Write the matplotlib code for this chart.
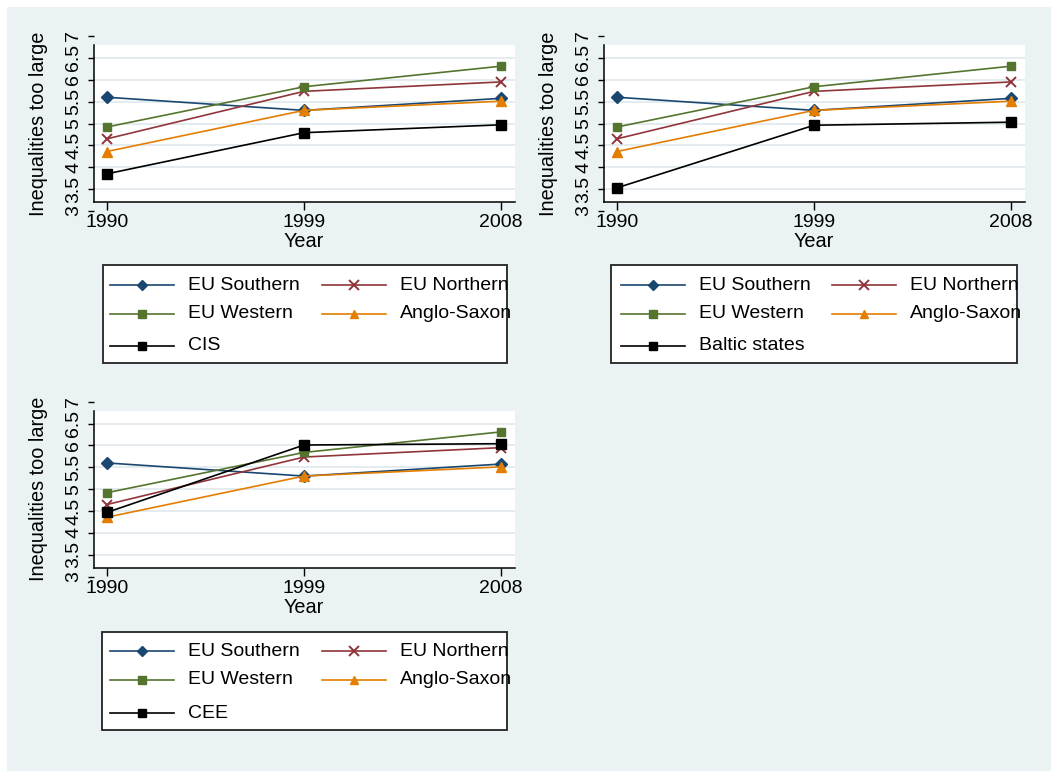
import matplotlib
matplotlib.use('Agg')
import matplotlib.pyplot as plt
from matplotlib.patches import Rectangle
from matplotlib.lines import Line2D

plt.rcParams['font.family'] = ['Liberation Sans', 'DejaVu Sans']

# ---------------- data ----------------
years = [1990, 1999, 2008]
eu_southern = [5.60, 5.30, 5.575]
eu_northern = [4.65, 5.735, 5.95]
eu_western = [4.92, 5.84, 6.31]
anglo_saxon = [4.36, 5.30, 5.51]
cis = [3.85, 4.79, 4.97]
baltic_states = [3.53, 4.96, 5.03]
cee = [4.47, 6.01, 6.04]

common_names = ['EU Southern', 'EU Northern', 'EU Western', 'Anglo-Saxon']
yticks = [3, 3.5, 4, 4.5, 5, 5.5, 6, 6.5, 7]
ytick_labels = ['3', '3.5', '4', '4.5', '5', '5.5', '6', '6.5', '7']
y_title = 'Inequalities too large'
x_title = 'Year'

# ---------------- style ----------------
W, H = 1051, 771
BG = '#EAF2F3'
GRID = '#E2EBEE'
colors = ['#1A476F', '#90353B', '#55752F', '#E37E00', '#000000']
markers = ['D', 'x', 's', '^', 's']
msizes = [6, 7.5, 6, 6.5, 6.5]
mews = [1, 1.4, 1, 1, 1]
TICK_FS = 14
TITLE_FS = 14.3

fig = plt.figure(figsize=(W / 100, H / 100), dpi=100)
fig.patch.set_facecolor('white')
fig.patches.append(Rectangle((7 / W, 0), 1 - 7 / W, 1 - 7 / H,
                             transform=fig.transFigure, facecolor=BG,
                             edgecolor='none', zorder=-10))

PLOT_LO, PLOT_HI = 3.206, 6.787


def make_panel(x0, x1, t1990, t2008, y7, y3, extra):
    ppy = (t2008 - t1990) / (2008 - 1990)
    xl0 = 1990 - (t1990 - x0) / ppy
    xl1 = 2008 + (x1 - t2008) / ppy
    ax = fig.add_axes([x0 / W, 1 - y3 / H, (x1 - x0) / W, (y3 - y7) / H])
    ax.patch.set_visible(False)
    ax.set_xlim(xl0, xl1)
    ax.set_ylim(3, 7)
    ax.add_patch(Rectangle((xl0, PLOT_LO), xl1 - xl0, PLOT_HI - PLOT_LO,
                           facecolor='white', edgecolor='none', zorder=0))
    for yv in yticks[1:-1]:
        ax.plot([xl0, xl1], [yv, yv], color=GRID, lw=1.3, zorder=1)
    series = [eu_southern, eu_northern, eu_western, anglo_saxon, extra]
    for i, vals in enumerate(series):
        ax.plot(years, vals, color=colors[i], lw=1.2, marker=markers[i],
                ms=msizes[i], mew=mews[i], zorder=3 + i, clip_on=False)
    for s in ['top', 'right']:
        ax.spines[s].set_visible(False)
    ax.spines['left'].set_bounds(PLOT_LO, PLOT_HI)
    ax.spines['bottom'].set_position(('data', PLOT_LO))
    for s in ['left', 'bottom']:
        ax.spines[s].set_linewidth(1.1)
    ax.set_xticks(years)
    ax.set_xticklabels([str(y) for y in years], fontsize=TICK_FS)
    ax.set_yticks(yticks)
    ax.set_yticklabels(ytick_labels, rotation=90, va='center', fontsize=TICK_FS)
    ax.tick_params(axis='x', length=6, width=1, pad=3)
    ax.tick_params(axis='y', length=4.5, width=1, pad=4)
    ax.set_xlabel(x_title, fontsize=TITLE_FS)
    ax.xaxis.label.set_va('center')
    ax.xaxis.set_label_coords((304 - 94) / 421, -30.7 / (y3 - y7))
    ax.set_ylabel(y_title, fontsize=TITLE_FS)
    ax.yaxis.label.set_va('center')
    ax.yaxis.set_label_coords((38.3 - 94) / 421, 0.5)
    return ax


make_panel(94, 515, 107, 501, 36, 211, cis)
make_panel(604, 1025, 617, 1011, 36, 211, baltic_states)
make_panel(94, 515, 107, 501, 401.7, 576.7, cee)

# ---------------- legends (pixel overlay) ----------------
ov = fig.add_axes([0, 0, 1, 1], zorder=20)
ov.set_xlim(0, W)
ov.set_ylim(H, 0)
ov.axis('off')
ov.patch.set_visible(False)


def draw_legend(bx0, bx1, by0, by1, rows, extra_name, col1, col2):
    ov.add_patch(Rectangle((bx0, by0), bx1 - bx0, by1 - by0, facecolor='white',
                           edgecolor='#222222', lw=1.3, zorder=1))
    names = common_names + [extra_name]
    slots = [(col1, rows[0]), (col2, rows[0]), (col1, rows[1]), (col2, rows[1]), (col1, rows[2])]
    for i, (name, (cx, ry)) in enumerate(zip(names, slots)):
        ov.add_line(Line2D([cx, cx + 64], [ry, ry], color=colors[i], lw=1.2, zorder=2))
        ov.add_line(Line2D([cx + 32], [ry], color=colors[i], marker=markers[i],
                           ms=msizes[i] - 0.5, mew=mews[i], lw=0, zorder=3))
        ov.text(cx + 78, ry, name, fontsize=14, va='center', ha='left', zorder=4)


draw_legend(103, 507, 265, 363, [285, 314, 346], 'CIS', 110, 322)
draw_legend(611, 1017, 265, 363, [285, 314, 346], 'Baltic states', 621, 832)
draw_legend(102, 507, 632, 730, [651, 680, 713], 'CEE', 110, 322)

fig.savefig('out.png', dpi=100, facecolor=fig.get_facecolor())
